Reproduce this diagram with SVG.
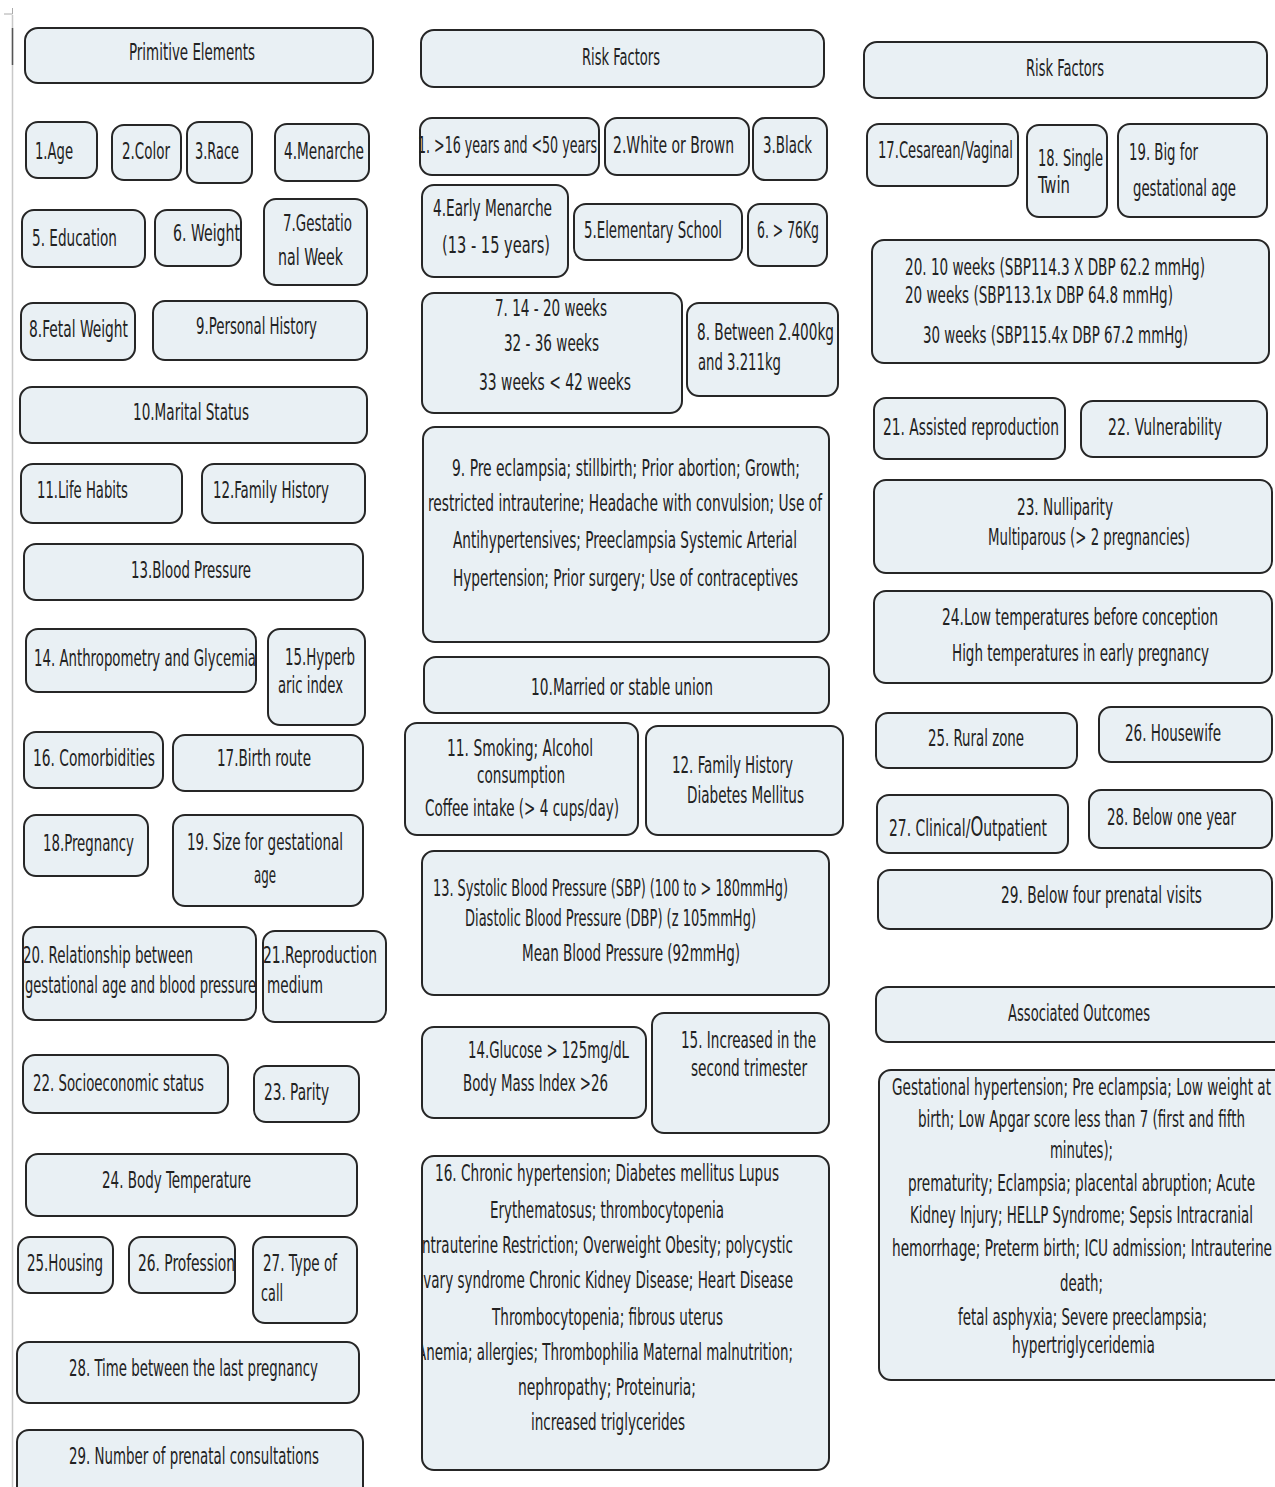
<svg xmlns="http://www.w3.org/2000/svg" width="1275" height="1487" viewBox="0 0 1275 1487">
<style>
.b{fill:#e9f0f4;stroke:#262626;stroke-width:2}
text{font-family:"Liberation Sans Narrow","DejaVu Sans Condensed","Liberation Sans",Arial,sans-serif;font-size:23px;fill:#222}
</style>
<defs>
<clipPath id="c16"><rect x="423" y="1156" width="406" height="314" rx="12"/></clipPath>
</defs>
<rect width="1275" height="1487" fill="#fff"/>
<g id="frame">
<line x1="12.5" y1="15" x2="12.5" y2="1487" stroke="#c8c8c8" stroke-width="1.5"/>
<line x1="12.5" y1="28" x2="12.5" y2="65" stroke="#555" stroke-width="1.5"/>
<path d="M4 14 H12.5 V8" fill="none" stroke="#aaa" stroke-width="1"/>
</g>
<g id="connectors"></g>

<!-- Column 1 -->
<g id="pe-title"><rect class="b" x="25" y="28" width="348" height="55" rx="13"/><text x="129" y="60" textLength="126" lengthAdjust="spacingAndGlyphs">Primitive Elements</text></g>
<g id="pe1"><rect class="b" x="26" y="122" width="71" height="56" rx="12"/><text x="35" y="159" textLength="38" lengthAdjust="spacingAndGlyphs">1.Age</text></g>
<g id="pe2"><rect class="b" x="112" y="125" width="69" height="55" rx="12"/><text x="122" y="159" textLength="48" lengthAdjust="spacingAndGlyphs">2.Color</text></g>
<g id="pe3"><rect class="b" x="187" y="122" width="65" height="61" rx="12"/><text x="195" y="159" textLength="44" lengthAdjust="spacingAndGlyphs">3.Race</text></g>
<g id="pe4"><rect class="b" x="275" y="124" width="94" height="57" rx="12"/><text x="284" y="159" textLength="80" lengthAdjust="spacingAndGlyphs">4.Menarche</text></g>
<g id="pe5"><rect class="b" x="22" y="210" width="123" height="57" rx="12"/><text x="32" y="246" textLength="85" lengthAdjust="spacingAndGlyphs">5. Education</text></g>
<g id="pe6"><rect class="b" x="155" y="210" width="86" height="56" rx="12"/><text x="173" y="241" textLength="67" lengthAdjust="spacingAndGlyphs">6. Weight</text></g>
<g id="pe7"><rect class="b" x="264" y="199" width="103" height="86" rx="12"/><text x="283" y="231" textLength="69" lengthAdjust="spacingAndGlyphs">7.Gestatio</text><text x="278" y="265" textLength="65" lengthAdjust="spacingAndGlyphs">nal Week</text></g>
<g id="pe8"><rect class="b" x="21" y="303" width="114" height="57" rx="12"/><text x="29" y="337" textLength="99" lengthAdjust="spacingAndGlyphs">8.Fetal Weight</text></g>
<g id="pe9"><rect class="b" x="153" y="301" width="214" height="59" rx="12"/><text x="196" y="334" textLength="121" lengthAdjust="spacingAndGlyphs">9.Personal History</text></g>
<g id="pe10"><rect class="b" x="20" y="387" width="347" height="56" rx="12"/><text x="133" y="420" textLength="116" lengthAdjust="spacingAndGlyphs">10.Marital  Status</text></g>
<g id="pe11"><rect class="b" x="21" y="464" width="161" height="59" rx="12"/><text x="37" y="498" textLength="91" lengthAdjust="spacingAndGlyphs">11.Life Habits</text></g>
<g id="pe12"><rect class="b" x="202" y="464" width="163" height="59" rx="12"/><text x="213" y="498" textLength="116" lengthAdjust="spacingAndGlyphs">12.Family History</text></g>
<g id="pe13"><rect class="b" x="24" y="544" width="339" height="56" rx="12"/><text x="131" y="578" textLength="120" lengthAdjust="spacingAndGlyphs">13.Blood Pressure</text></g>
<g id="pe14"><rect class="b" x="26" y="629" width="230" height="63" rx="12"/><text x="34" y="666" textLength="222" lengthAdjust="spacingAndGlyphs">14. Anthropometry and Glycemia</text></g>
<g id="pe15"><rect class="b" x="268" y="629" width="97" height="96" rx="12"/><text x="285" y="665" textLength="70" lengthAdjust="spacingAndGlyphs">15.Hyperb</text><text x="278" y="693" textLength="65" lengthAdjust="spacingAndGlyphs">aric index</text></g>
<g id="pe16"><rect class="b" x="24" y="732" width="139" height="56" rx="12"/><text x="33" y="766" textLength="122" lengthAdjust="spacingAndGlyphs">16. Comorbidities</text></g>
<g id="pe17"><rect class="b" x="173" y="735" width="190" height="56" rx="12"/><text x="217" y="766" textLength="94" lengthAdjust="spacingAndGlyphs">17.Birth route</text></g>
<g id="pe18"><rect class="b" x="24" y="815" width="124" height="61" rx="12"/><text x="43" y="851" textLength="91" lengthAdjust="spacingAndGlyphs">18.Pregnancy</text></g>
<g id="pe19"><rect class="b" x="173" y="815" width="190" height="91" rx="12"/><text x="187" y="850" textLength="156" lengthAdjust="spacingAndGlyphs">19. Size for gestational</text><text x="254" y="883" textLength="22" lengthAdjust="spacingAndGlyphs">age</text></g>
<g id="pe20"><rect class="b" x="23" y="927" width="233" height="93" rx="12"/><text x="23" y="963" textLength="170" lengthAdjust="spacingAndGlyphs">20. Relationship between</text><text x="25" y="993" textLength="231" lengthAdjust="spacingAndGlyphs">gestational age and blood pressure</text></g>
<g id="pe21"><rect class="b" x="263" y="931" width="123" height="91" rx="12"/><text x="263" y="963" textLength="114" lengthAdjust="spacingAndGlyphs">21.Reproduction</text><text x="267" y="993" textLength="56" lengthAdjust="spacingAndGlyphs">medium</text></g>
<g id="pe22"><rect class="b" x="23" y="1055" width="205" height="58" rx="12"/><text x="33" y="1091" textLength="171" lengthAdjust="spacingAndGlyphs">22. Socioeconomic status</text></g>
<g id="pe23"><rect class="b" x="254" y="1066" width="105" height="56" rx="12"/><text x="264" y="1100" textLength="65" lengthAdjust="spacingAndGlyphs">23. Parity</text></g>
<g id="pe24"><rect class="b" x="26" y="1154" width="331" height="62" rx="12"/><text x="102" y="1188" textLength="149" lengthAdjust="spacingAndGlyphs">24. Body Temperature</text></g>
<g id="pe25"><rect class="b" x="18" y="1237" width="95" height="56" rx="12"/><text x="27" y="1271" textLength="76" lengthAdjust="spacingAndGlyphs">25.Housing</text></g>
<g id="pe26"><rect class="b" x="129" y="1237" width="106" height="56" rx="12"/><text x="138" y="1271" textLength="97" lengthAdjust="spacingAndGlyphs">26. Profession</text></g>
<g id="pe27"><rect class="b" x="253" y="1237" width="104" height="86" rx="12"/><text x="263" y="1271" textLength="74" lengthAdjust="spacingAndGlyphs">27. Type of</text><text x="261" y="1301" textLength="22" lengthAdjust="spacingAndGlyphs">call</text></g>
<g id="pe28"><rect class="b" x="17" y="1342" width="342" height="61" rx="12"/><text x="69" y="1376" textLength="249" lengthAdjust="spacingAndGlyphs">28. Time between the last pregnancy</text></g>
<g id="pe29"><rect class="b" x="17" y="1430" width="346" height="70" rx="12"/><text x="69" y="1464" textLength="250" lengthAdjust="spacingAndGlyphs">29. Number of prenatal consultations</text></g>

<!-- Column 2 -->
<g id="rf-title"><rect class="b" x="421" y="30" width="403" height="57" rx="13"/><text x="582" y="65" textLength="78" lengthAdjust="spacingAndGlyphs">Risk Factors</text></g>
<g id="rf1"><rect class="b" x="420" y="118" width="179" height="57" rx="12"/><text x="418" y="153" textLength="179" lengthAdjust="spacingAndGlyphs">1. &gt;16 years and &lt;50 years</text></g>
<g id="rf2"><rect class="b" x="605" y="118" width="144" height="57" rx="12"/><text x="613" y="153" textLength="121" lengthAdjust="spacingAndGlyphs">2.White or Brown</text></g>
<g id="rf3"><rect class="b" x="753" y="118" width="74" height="62" rx="12"/><text x="763" y="153" textLength="49" lengthAdjust="spacingAndGlyphs">3.Black</text></g>
<g id="rf4"><rect class="b" x="422" y="185" width="146" height="92" rx="12"/><text x="433" y="216" textLength="119" lengthAdjust="spacingAndGlyphs">4.Early Menarche</text><text x="442" y="253" textLength="108" lengthAdjust="spacingAndGlyphs">(13 - 15 years)</text></g>
<g id="rf5"><rect class="b" x="574" y="204" width="168" height="56" rx="12"/><text x="584" y="238" textLength="138" lengthAdjust="spacingAndGlyphs">5.Elementary School</text></g>
<g id="rf6"><rect class="b" x="748" y="204" width="79" height="62" rx="12"/><text x="757" y="238" textLength="62" lengthAdjust="spacingAndGlyphs">6. &gt; 76Kg</text></g>
<g id="rf7"><rect class="b" x="422" y="293" width="260" height="120" rx="12"/><text x="495" y="316" textLength="112" lengthAdjust="spacingAndGlyphs">7. 14 - 20 weeks</text><text x="504" y="351" textLength="95" lengthAdjust="spacingAndGlyphs">32 - 36 weeks</text><text x="479" y="390" textLength="152" lengthAdjust="spacingAndGlyphs">33 weeks  &lt; 42 weeks</text></g>
<g id="rf8"><rect class="b" x="687" y="303" width="151" height="93" rx="12"/><text x="697" y="340" textLength="137" lengthAdjust="spacingAndGlyphs">8. Between 2.400kg</text><text x="698" y="370" textLength="83" lengthAdjust="spacingAndGlyphs">and 3.211kg</text></g>
<g id="rf9"><rect class="b" x="423" y="427" width="406" height="215" rx="12"/><text x="452" y="476" textLength="348" lengthAdjust="spacingAndGlyphs">9. Pre eclampsia; stillbirth; Prior abortion; Growth;</text><text x="428" y="511" textLength="394" lengthAdjust="spacingAndGlyphs">restricted intrauterine; Headache with convulsion; Use of</text><text x="453" y="548" textLength="344" lengthAdjust="spacingAndGlyphs">Antihypertensives; Preeclampsia Systemic Arterial</text><text x="453" y="586" textLength="345" lengthAdjust="spacingAndGlyphs">Hypertension; Prior surgery; Use of contraceptives</text></g>
<g id="rf10"><rect class="b" x="424" y="657" width="405" height="56" rx="12"/><text x="531" y="695" textLength="182" lengthAdjust="spacingAndGlyphs">10.Married or stable union</text></g>
<g id="rf11"><rect class="b" x="405" y="723" width="233" height="112" rx="12"/><text x="447" y="756" textLength="146" lengthAdjust="spacingAndGlyphs">11. Smoking;  Alcohol</text><text x="477" y="783" textLength="88" lengthAdjust="spacingAndGlyphs">consumption</text><text x="425" y="816" textLength="194" lengthAdjust="spacingAndGlyphs">Coffee intake (&gt; 4 cups/day)</text></g>
<g id="rf12"><rect class="b" x="646" y="726" width="197" height="109" rx="12"/><text x="672" y="773" textLength="121" lengthAdjust="spacingAndGlyphs">12. Family History</text><text x="687" y="803" textLength="117" lengthAdjust="spacingAndGlyphs">Diabetes Mellitus</text></g>
<g id="rf13"><rect class="b" x="422" y="851" width="407" height="144" rx="12"/><text x="433" y="896" textLength="355" lengthAdjust="spacingAndGlyphs">13. Systolic Blood Pressure (SBP) (100 to &gt; 180mmHg)</text><text x="465" y="926" textLength="291" lengthAdjust="spacingAndGlyphs">Diastolic Blood Pressure (DBP) (z 105mmHg)</text><text x="522" y="961" textLength="218" lengthAdjust="spacingAndGlyphs">Mean Blood Pressure (92mmHg)</text></g>
<g id="rf14"><rect class="b" x="422" y="1027" width="224" height="91" rx="12"/><text x="468" y="1058" textLength="161" lengthAdjust="spacingAndGlyphs">14.Glucose &gt; 125mg/dL</text><text x="463" y="1091" textLength="145" lengthAdjust="spacingAndGlyphs">Body Mass Index  &gt;26</text></g>
<g id="rf15"><rect class="b" x="652" y="1013" width="177" height="120" rx="12"/><text x="681" y="1048" textLength="135" lengthAdjust="spacingAndGlyphs">15. Increased in the</text><text x="691" y="1076" textLength="116" lengthAdjust="spacingAndGlyphs">second trimester</text></g>
<g id="rf16"><rect class="b" x="422" y="1156" width="407" height="314" rx="12"/>
<g clip-path="url(#c16)">
<text x="435" y="1181" textLength="344" lengthAdjust="spacingAndGlyphs">16. Chronic hypertension; Diabetes mellitus Lupus</text>
<text x="490" y="1218" textLength="234" lengthAdjust="spacingAndGlyphs">Erythematosus; thrombocytopenia</text>
<text x="418" y="1253" textLength="375" lengthAdjust="spacingAndGlyphs">Intrauterine Restriction; Overweight Obesity; polycystic</text>
<text x="415" y="1288" textLength="378" lengthAdjust="spacingAndGlyphs">ovary syndrome Chronic Kidney Disease; Heart Disease</text>
<text x="492" y="1325" textLength="231" lengthAdjust="spacingAndGlyphs">Thrombocytopenia; fibrous uterus</text>
<text x="417" y="1360" textLength="376" lengthAdjust="spacingAndGlyphs">Anemia; allergies; Thrombophilia Maternal malnutrition;</text>
<text x="518" y="1395" textLength="178" lengthAdjust="spacingAndGlyphs">nephropathy; Proteinuria;</text>
<text x="531" y="1430" textLength="154" lengthAdjust="spacingAndGlyphs">increased triglycerides</text>
</g></g>

<!-- Column 3 -->
<g id="rf-title2"><rect class="b" x="864" y="42" width="403" height="56" rx="13"/><text x="1026" y="76" textLength="78" lengthAdjust="spacingAndGlyphs">Risk Factors</text></g>
<g id="rf17"><rect class="b" x="867" y="124" width="151" height="62" rx="12"/><text x="878" y="158" textLength="135" lengthAdjust="spacingAndGlyphs">17.Cesarean/Vaginal</text></g>
<g id="rf18"><rect class="b" x="1027" y="125" width="80" height="92" rx="12"/><text x="1038" y="166" textLength="65" lengthAdjust="spacingAndGlyphs">18. Single</text><text x="1038" y="193" textLength="32" lengthAdjust="spacingAndGlyphs">Twin</text></g>
<g id="rf19"><rect class="b" x="1118" y="124" width="149" height="93" rx="12"/><text x="1129" y="160" textLength="69" lengthAdjust="spacingAndGlyphs">19. Big for</text><text x="1133" y="196" textLength="103" lengthAdjust="spacingAndGlyphs">gestational  age</text></g>
<g id="rf20"><rect class="b" x="872" y="240" width="397" height="123" rx="12"/><text x="905" y="275" textLength="300" lengthAdjust="spacingAndGlyphs">20. 10 weeks (SBP114.3 X DBP 62.2 mmHg)</text><text x="905" y="303" textLength="268" lengthAdjust="spacingAndGlyphs">20 weeks (SBP113.1x  DBP 64.8 mmHg)</text><text x="923" y="343" textLength="265" lengthAdjust="spacingAndGlyphs">30 weeks (SBP115.4x  DBP 67.2 mmHg)</text></g>
<g id="rf21"><rect class="b" x="874" y="398" width="191" height="61" rx="12"/><text x="883" y="435" textLength="176" lengthAdjust="spacingAndGlyphs">21. Assisted reproduction</text></g>
<g id="rf22"><rect class="b" x="1081" y="401" width="186" height="56" rx="12"/><text x="1108" y="435" textLength="114" lengthAdjust="spacingAndGlyphs">22. Vulnerability</text></g>
<g id="rf23"><rect class="b" x="874" y="480" width="398" height="93" rx="12"/><text x="1017" y="515" textLength="96" lengthAdjust="spacingAndGlyphs">23. Nulliparity</text><text x="988" y="545" textLength="202" lengthAdjust="spacingAndGlyphs">Multiparous (&gt; 2 pregnancies)</text></g>
<g id="rf24"><rect class="b" x="874" y="591" width="398" height="92" rx="12"/><text x="942" y="625" textLength="276" lengthAdjust="spacingAndGlyphs">24.Low temperatures before conception</text><text x="952" y="661" textLength="257" lengthAdjust="spacingAndGlyphs">High temperatures in early pregnancy</text></g>
<g id="rf25"><rect class="b" x="876" y="713" width="201" height="55" rx="12"/><text x="928" y="746" textLength="96" lengthAdjust="spacingAndGlyphs">25. Rural zone</text></g>
<g id="rf26"><rect class="b" x="1099" y="707" width="173" height="55" rx="12"/><text x="1125" y="741" textLength="96" lengthAdjust="spacingAndGlyphs">26. Housewife</text></g>
<g id="rf27"><rect class="b" x="877" y="795" width="191" height="58" rx="12"/><text x="889" y="836" textLength="158" lengthAdjust="spacingAndGlyphs">27. Clinical/<tspan font-size="27">O</tspan>utpatient</text></g>
<g id="rf28"><rect class="b" x="1089" y="790" width="183" height="58" rx="12"/><text x="1107" y="825" textLength="129" lengthAdjust="spacingAndGlyphs">28. Below one year</text></g>
<g id="rf29"><rect class="b" x="878" y="870" width="394" height="59" rx="12"/><text x="1001" y="903" textLength="201" lengthAdjust="spacingAndGlyphs">29. Below four prenatal visits</text></g>
<g id="ao-title"><rect class="b" x="876" y="987" width="420" height="55" rx="12"/><text x="1008" y="1021" textLength="142" lengthAdjust="spacingAndGlyphs">Associated Outcomes</text></g>
<g id="ao"><rect class="b" x="879" y="1070" width="420" height="310" rx="12"/>
<text x="892" y="1095" textLength="379" lengthAdjust="spacingAndGlyphs">Gestational hypertension; Pre eclampsia; Low weight at</text>
<text x="918" y="1127" textLength="327" lengthAdjust="spacingAndGlyphs">birth; Low Apgar score less than 7 (first and fifth</text>
<text x="1050" y="1158" textLength="63" lengthAdjust="spacingAndGlyphs">minutes);</text>
<text x="908" y="1191" textLength="347" lengthAdjust="spacingAndGlyphs">prematurity; Eclampsia; placental abruption; Acute</text>
<text x="910" y="1223" textLength="343" lengthAdjust="spacingAndGlyphs">Kidney Injury; HELLP Syndrome; Sepsis Intracranial</text>
<text x="892" y="1256" textLength="380" lengthAdjust="spacingAndGlyphs">hemorrhage; Preterm birth; ICU admission; Intrauterine</text>
<text x="1060" y="1291" textLength="43" lengthAdjust="spacingAndGlyphs">death;</text>
<text x="958" y="1325" textLength="249" lengthAdjust="spacingAndGlyphs">fetal asphyxia; Severe preeclampsia;</text>
<text x="1012" y="1353" textLength="143" lengthAdjust="spacingAndGlyphs">hypertriglyceridemia</text>
</g>
</svg>
